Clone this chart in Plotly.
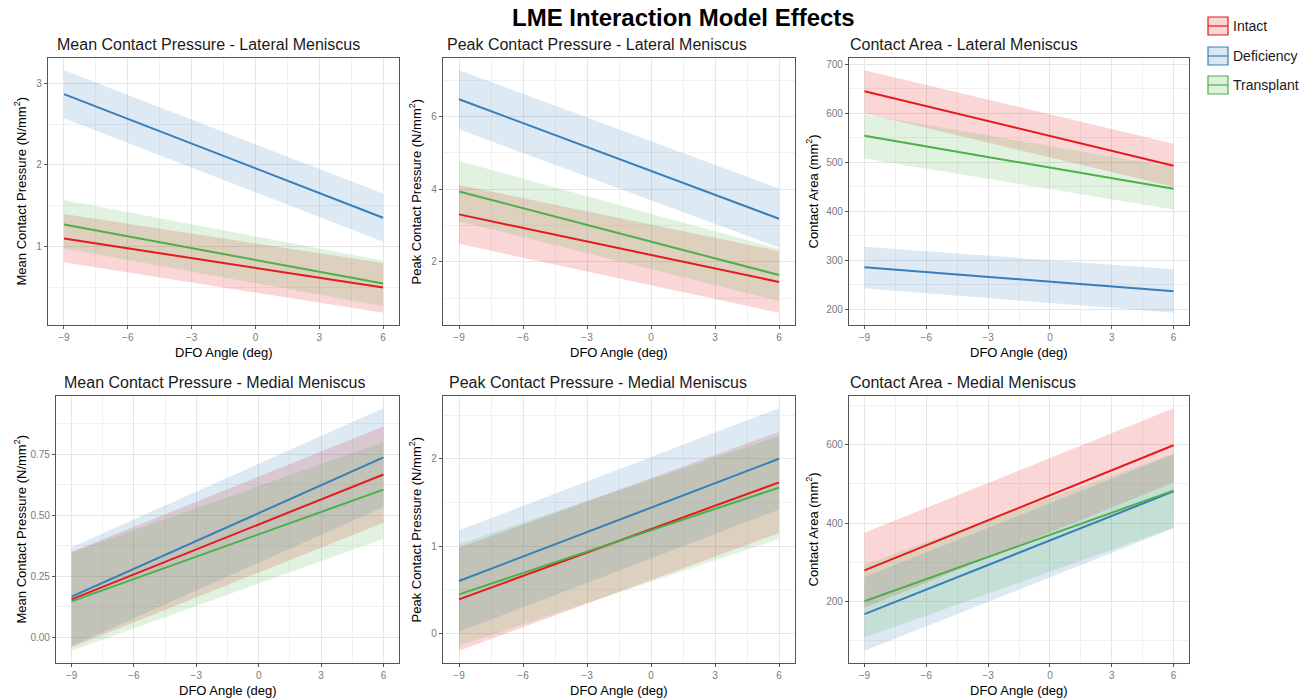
import plotly.graph_objects as go

PAGE_W, PAGE_H = 1313, 698
BODY_MARGIN = 8
W, H = PAGE_W - BODY_MARGIN, PAGE_H - BODY_MARGIN

# ---------------- data ----------------
ANGLE = [-9, 6]
GROUPS = ["Intact", "Deficiency", "Transplant"]
X_TICKS = [-9, -6, -3, 0, 3, 6]

# Mean contact pressure - lateral meniscus (fit, lower CI, upper CI at ANGLE)
MCP_LAT_INTACT = [1.10, 0.50]
MCP_LAT_INTACT_LO = [0.81, 0.19]
MCP_LAT_INTACT_HI = [1.40, 0.80]
MCP_LAT_DEF = [2.866, 1.354]
MCP_LAT_DEF_LO = [2.57, 1.06]
MCP_LAT_DEF_HI = [3.16, 1.65]
MCP_LAT_TRA = [1.27, 0.55]
MCP_LAT_TRA_LO = [0.98, 0.27]
MCP_LAT_TRA_HI = [1.57, 0.83]

# Peak contact pressure - lateral meniscus
PCP_LAT_INTACT = [3.31, 1.45]
PCP_LAT_INTACT_LO = [2.50, 0.60]
PCP_LAT_INTACT_HI = [4.12, 2.30]
PCP_LAT_DEF = [6.48, 3.19]
PCP_LAT_DEF_LO = [5.65, 2.40]
PCP_LAT_DEF_HI = [7.28, 4.02]
PCP_LAT_TRA = [3.94, 1.64]
PCP_LAT_TRA_LO = [3.12, 0.93]
PCP_LAT_TRA_HI = [4.78, 2.36]

# Contact area - lateral meniscus
CA_LAT_INTACT = [645, 493]
CA_LAT_INTACT_LO = [600, 450]
CA_LAT_INTACT_HI = [688, 538]
CA_LAT_DEF = [286, 237]
CA_LAT_DEF_LO = [243, 193]
CA_LAT_DEF_HI = [328, 282]
CA_LAT_TRA = [554, 446]
CA_LAT_TRA_LO = [508, 404]
CA_LAT_TRA_HI = [598, 490]

# Mean contact pressure - medial meniscus
MCP_MED_INTACT = [0.156, 0.668]
MCP_MED_INTACT_LO = [-0.04, 0.47]
MCP_MED_INTACT_HI = [0.35, 0.865]
MCP_MED_DEF = [0.167, 0.738]
MCP_MED_DEF_LO = [-0.035, 0.535]
MCP_MED_DEF_HI = [0.37, 0.94]
MCP_MED_TRA = [0.148, 0.606]
MCP_MED_TRA_LO = [-0.055, 0.405]
MCP_MED_TRA_HI = [0.35, 0.80]

# Peak contact pressure - medial meniscus
PCP_MED_INTACT = [0.39, 1.73]
PCP_MED_INTACT_LO = [-0.20, 1.15]
PCP_MED_INTACT_HI = [0.98, 2.31]
PCP_MED_DEF = [0.60, 2.00]
PCP_MED_DEF_LO = [0.02, 1.42]
PCP_MED_DEF_HI = [1.18, 2.58]
PCP_MED_TRA = [0.447, 1.67]
PCP_MED_TRA_LO = [-0.14, 1.08]
PCP_MED_TRA_HI = [1.02, 2.26]

# Contact area - medial meniscus
CA_MED_INTACT = [279, 599]
CA_MED_INTACT_LO = [183, 504]
CA_MED_INTACT_HI = [375, 694]
CA_MED_DEF = [167, 481]
CA_MED_DEF_LO = [73, 387]
CA_MED_DEF_HI = [262, 576]
CA_MED_TRA = [200, 483]
CA_MED_TRA_LO = [107, 388]
CA_MED_TRA_HI = [294, 578]

PANEL_TITLES = [
    "Mean Contact Pressure - Lateral Meniscus",
    "Peak Contact Pressure - Lateral Meniscus",
    "Contact Area - Lateral Meniscus",
    "Mean Contact Pressure - Medial Meniscus",
    "Peak Contact Pressure - Medial Meniscus",
    "Contact Area - Medial Meniscus",
]
Y_LABELS = [
    "Mean Contact Pressure (N/mm<sup>2</sup>)",
    "Peak Contact Pressure (N/mm<sup>2</sup>)",
    "Contact Area (mm<sup>2</sup>)",
    "Mean Contact Pressure (N/mm<sup>2</sup>)",
    "Peak Contact Pressure (N/mm<sup>2</sup>)",
    "Contact Area (mm<sup>2</sup>)",
]
X_LABEL = "DFO Angle (deg)"

PANEL_DATA = [
    [(MCP_LAT_INTACT, MCP_LAT_INTACT_LO, MCP_LAT_INTACT_HI),
     (MCP_LAT_DEF, MCP_LAT_DEF_LO, MCP_LAT_DEF_HI),
     (MCP_LAT_TRA, MCP_LAT_TRA_LO, MCP_LAT_TRA_HI)],
    [(PCP_LAT_INTACT, PCP_LAT_INTACT_LO, PCP_LAT_INTACT_HI),
     (PCP_LAT_DEF, PCP_LAT_DEF_LO, PCP_LAT_DEF_HI),
     (PCP_LAT_TRA, PCP_LAT_TRA_LO, PCP_LAT_TRA_HI)],
    [(CA_LAT_INTACT, CA_LAT_INTACT_LO, CA_LAT_INTACT_HI),
     (CA_LAT_DEF, CA_LAT_DEF_LO, CA_LAT_DEF_HI),
     (CA_LAT_TRA, CA_LAT_TRA_LO, CA_LAT_TRA_HI)],
    [(MCP_MED_INTACT, MCP_MED_INTACT_LO, MCP_MED_INTACT_HI),
     (MCP_MED_DEF, MCP_MED_DEF_LO, MCP_MED_DEF_HI),
     (MCP_MED_TRA, MCP_MED_TRA_LO, MCP_MED_TRA_HI)],
    [(PCP_MED_INTACT, PCP_MED_INTACT_LO, PCP_MED_INTACT_HI),
     (PCP_MED_DEF, PCP_MED_DEF_LO, PCP_MED_DEF_HI),
     (PCP_MED_TRA, PCP_MED_TRA_LO, PCP_MED_TRA_HI)],
    [(CA_MED_INTACT, CA_MED_INTACT_LO, CA_MED_INTACT_HI),
     (CA_MED_DEF, CA_MED_DEF_LO, CA_MED_DEF_HI),
     (CA_MED_TRA, CA_MED_TRA_LO, CA_MED_TRA_HI)],
]

# ---------------- styling ----------------
LINE_COLORS = {"Intact": "#E41A1C", "Deficiency": "#377EB8", "Transplant": "#4DAF4A"}
FILL_COLORS = {"Intact": "rgba(228,26,28,0.18)",
               "Deficiency": "rgba(55,126,184,0.17)",
               "Transplant": "rgba(77,175,74,0.17)"}
KEY_FILLS = {"Intact": "rgba(228,26,28,0.18)",
             "Deficiency": "rgba(55,126,184,0.18)",
             "Transplant": "rgba(77,175,74,0.18)"}
FONT = "Liberation Sans, Arial, sans-serif"

# panel boxes in page pixels: (left, right, top, bottom)
BOXES = [
    (48, 399, 58, 325), (443, 795, 58, 325), (849, 1189, 58, 325),
    (56, 399, 396, 663), (443, 795, 396, 663), (849, 1189, 396, 663),
]
TITLE_POS = [(55, 44), (445, 44), (848, 44), (62, 382), (447, 382), (848, 382)]
YLAB_X = [20, 415, 812, 20, 415, 812]
Y_DTICK = [1, 2, 100, 0.25, 1, 200]
Y_FMT = ["d", "d", "d", ".2f", "d", "d"]


def px(x):
    return (x - BODY_MARGIN) / W


def py(y):
    return 1 - (y - BODY_MARGIN) / H


fig = go.Figure()
layout = dict(
    width=W, height=H, margin=dict(l=0, r=0, t=0, b=0, autoexpand=False),
    paper_bgcolor="white", plot_bgcolor="white", showlegend=False,
    font=dict(family=FONT, color="black"),
)
annotations = []
shapes = []

for i, (box, series) in enumerate(zip(BOXES, PANEL_DATA)):
    n = "" if i == 0 else str(i + 1)
    xa, ya = "x" + n, "y" + n
    l, r, t, b = box
    for g, (fit, lo, hi) in zip(GROUPS, series):
        fig.add_trace(go.Scatter(
            x=ANGLE + ANGLE[::-1], y=hi + lo[::-1], fill="toself",
            fillcolor=FILL_COLORS[g], line=dict(width=0), mode="lines",
            hoverinfo="skip", xaxis=xa, yaxis=ya, name=g))
    for g, (fit, lo, hi) in zip(GROUPS, series):
        fig.add_trace(go.Scatter(
            x=ANGLE, y=fit, mode="lines", line=dict(color=LINE_COLORS[g], width=2),
            xaxis=xa, yaxis=ya, name=g))
    ymin = min(min(s[1]) for s in series)
    ymax = max(max(s[2]) for s in series)
    pad = 0.05 * (ymax - ymin)
    xpad = 0.05 * (ANGLE[-1] - ANGLE[0])
    common = dict(
        showline=True, mirror=True, linecolor="#555555", linewidth=1.2,
        ticks="outside", ticklen=3, tickcolor="#555555",
        tickfont=dict(size=10, color="#7A7A7A", family=FONT),
        showgrid=True, gridcolor="#E6E6E6", gridwidth=1, zeroline=False,
        automargin=False,
    )
    layout["xaxis" + n] = dict(
        common, domain=[px(l), px(r)], range=[ANGLE[0] - xpad, ANGLE[-1] + xpad],
        tickvals=X_TICKS, anchor=ya,
        minor=dict(dtick=1.5, tick0=0, showgrid=True, gridcolor="#F1F1F1", ticks=""),
    )
    layout["yaxis" + n] = dict(
        common, domain=[py(b), py(t)], range=[ymin - pad, ymax + pad],
        dtick=Y_DTICK[i], tick0=0, tickformat=Y_FMT[i], anchor=xa,
        minor=dict(dtick=Y_DTICK[i] / 2, tick0=0, showgrid=True,
                   gridcolor="#F1F1F1", ticks=""),
    )
    tx, ty = TITLE_POS[i]
    annotations.append(dict(
        text=PANEL_TITLES[i], x=px(tx), y=py(ty), xref="paper", yref="paper",
        xanchor="left", yanchor="middle", showarrow=False,
        font=dict(size=16, color="#1A1A1A", family=FONT)))
    annotations.append(dict(
        text=Y_LABELS[i], x=px(YLAB_X[i]), y=py((t + b) / 2), xref="paper", yref="paper",
        xanchor="center", yanchor="middle", textangle=-90, showarrow=False,
        font=dict(size=13, color="black", family=FONT)))
    annotations.append(dict(
        text=X_LABEL, x=px((l + r) / 2), y=py(b + 27), xref="paper", yref="paper",
        xanchor="center", yanchor="middle", showarrow=False,
        font=dict(size=13, color="black", family=FONT)))

# main title
annotations.append(dict(
    text="<b>LME Interaction Model Effects</b>", x=px(683), y=py(18),
    xref="paper", yref="paper", xanchor="center", yanchor="middle", showarrow=False,
    font=dict(size=24, color="black", family=FONT)))

# legend (ggplot-like keys)
LEG_TOP = [17, 47, 76]
for g, top in zip(GROUPS, LEG_TOP):
    shapes.append(dict(type="rect", xref="paper", yref="paper",
                       x0=px(1208), x1=px(1228), y0=py(top), y1=py(top + 18),
                       fillcolor=KEY_FILLS[g],
                       line=dict(color=LINE_COLORS[g], width=1.2)))
    shapes.append(dict(type="line", xref="paper", yref="paper",
                       x0=px(1208), x1=px(1228), y0=py(top + 9), y1=py(top + 9),
                       line=dict(color=LINE_COLORS[g], width=1.2)))
    annotations.append(dict(
        text=g, x=px(1231), y=py(top + 9), xref="paper", yref="paper",
        xanchor="left", yanchor="middle", showarrow=False,
        font=dict(size=14, color="#1A1A1A", family=FONT)))

layout["annotations"] = annotations
layout["shapes"] = shapes
fig.update_layout(**layout)
fig.write_html("out.html")
